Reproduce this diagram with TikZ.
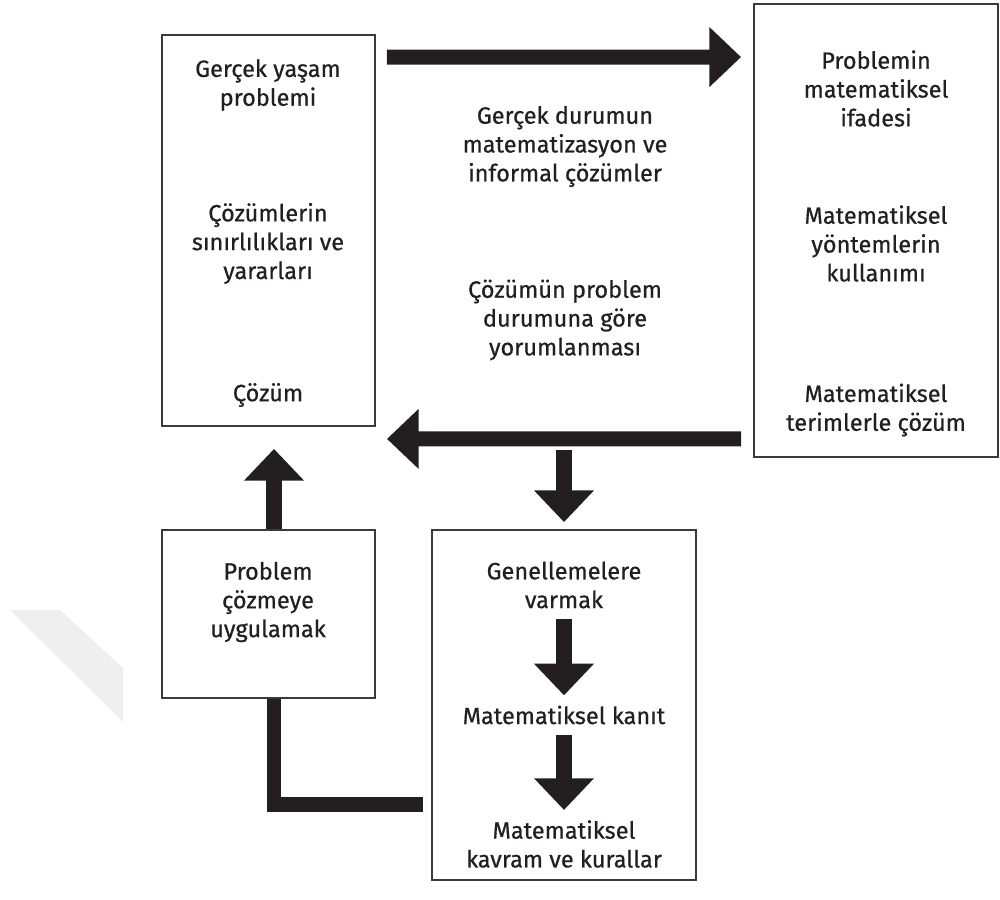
\documentclass[tikz,border=0pt]{standalone}
\usepackage{fontspec}
\setmainfont{Fira Sans}[FakeBold=0.6]
\usepackage{tikz}
\usetikzlibrary{arrows.meta, positioning, calc}
\definecolor{inkblack}{HTML}{231F20}
\definecolor{boxgray}{HTML}{3A3A3A}
\definecolor{textdark}{HTML}{231F20}
\definecolor{markgray}{HTML}{EFEFEF}

\begin{document}
\begin{tikzpicture}[
    x=0.02cm, y=-0.02cm,
    box/.style={rectangle, draw=boxgray, line width=1.1pt, inner sep=0pt},
    txt/.style={align=center, text=textdark, font=\fontsize{13.4}{16.4}\selectfont, inner sep=0pt},
    bigarr/.style={-{Triangle[width=33pt, length=18pt]}, line width=8.6pt, draw=inkblack},
    bigline/.style={line width=8.5pt, draw=inkblack}
]
\useasboundingbox (0,0) rectangle (1000,899);

% faint mark on the left
\fill[markgray] (10,610) -- (60,610) -- (123,668) -- (123,722) -- cycle;

% Boxes
\node[box, minimum width=4.26cm, minimum height=7.82cm] (real) at (268.5,230.5) {};
\node[box, minimum width=4.88cm, minimum height=9.06cm] (math) at (876,230.5) {};
\node[box, minimum width=4.26cm, minimum height=3.36cm] (apply) at (268.5,614) {};
\node[box, minimum width=5.28cm, minimum height=7cm] (gen) at (564,705) {};

% Texts
\node[txt] (realprob) at (268,85) {Gerçek yaşam\\problemi};
\node[txt] (limits) at (268,243.5) {Çözümlerin\\sınırlılıkları ve\\yararları};
\node[txt] (sol) at (268,395) {Çözüm};
\node[txt] (mathz) at (565,146.5) {Gerçek durumun\\matematizasyon ve\\informal çözümler};
\node[txt] (interp) at (565,320) {Çözümün problem\\durumuna göre\\yorumlanması};
\node[txt] (expr) at (876,88.5) {Problemin\\matematiksel\\ifadesi};
\node[txt] (methods) at (876,243.5) {Matematiksel\\yöntemlerin\\kullanımı};
\node[txt] (mathsol) at (876,410) {Matematiksel\\terimlerle çözüm};
\node[txt] (solve) at (268,602) {Problem\\çözmeye\\uygulamak};
\node[txt] (general) at (564,585) {Genellemelere\\varmak};
\node[txt] (proof) at (564,715) {Matematiksel kanıt};
\node[txt] (rules) at (564,844) {Matematiksel\\kavram ve kurallar};

% Block arrows
\draw[bigarr] ([shift={(0.22cm,-0.46cm)}]real.north east) -- ([shift={(-0.24cm,-1.08cm)}]math.north west);
\draw[bigarr] ([shift={(-0.24cm,0.38cm)}]math.south west) -- ([shift={(0.22cm,-0.24cm)}]real.south east);
\draw[bigarr] ([yshift=1.58cm]gen.north) -- ([yshift=0.14cm]gen.north);
\draw[bigarr] ([xshift=0.11cm]apply.north) -- ([shift={(0.11cm,-0.44cm)}]real.south);
\draw[bigline] ([shift={(-0.16cm,-1.99cm)}]gen.west) -| ([xshift=0.11cm]apply.south);
\draw[bigarr] ([yshift=-0.2cm]general.south) -- ([yshift=0.2cm]proof.north);
\draw[bigarr] ([yshift=-0.2cm]proof.south) -- ([yshift=0.2cm]rules.north);
\end{tikzpicture}
\end{document}
